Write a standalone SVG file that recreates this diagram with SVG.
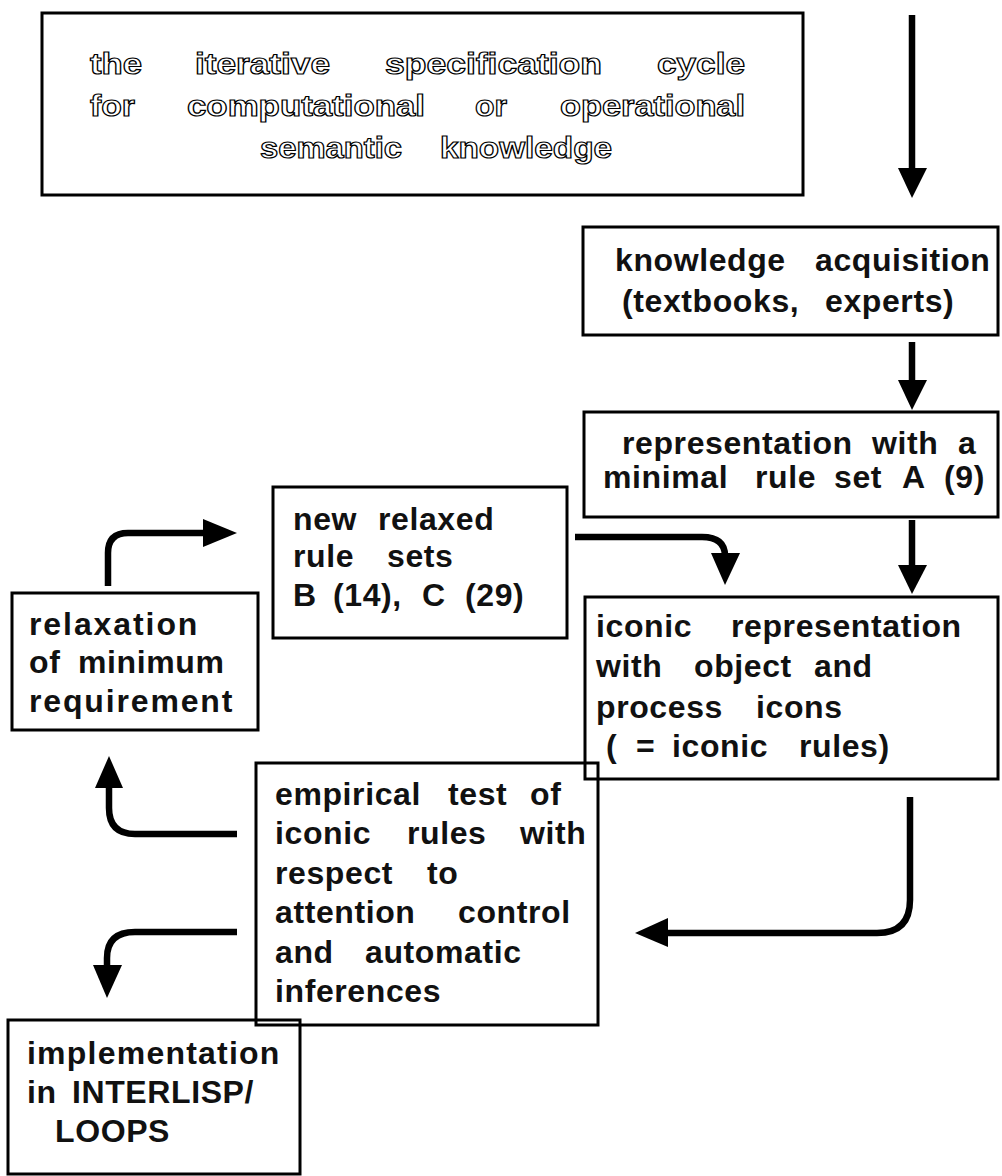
<svg xmlns="http://www.w3.org/2000/svg" width="1002" height="1176" viewBox="0 0 1002 1176">
<style>
.box{fill:none;stroke:#000;stroke-width:3}
.t{font-family:"Liberation Sans",Arial,sans-serif;font-weight:bold;font-size:32px;letter-spacing:0.6px;fill:#111}
.o{font-family:"Liberation Sans",Arial,sans-serif;font-weight:bold;font-size:30px;fill:#fff;stroke:#000;stroke-width:1.2}
.c{fill:none;stroke:#000;stroke-width:6.5}
.h{fill:#000}
</style>
<rect width="1002" height="1176" fill="#fff"/>
<g id="title">
<rect class="box" x="42" y="13" width="761" height="182"/>
<text class="o" x="90" y="74" textLength="52" lengthAdjust="spacingAndGlyphs">the</text>
<text class="o" x="195" y="74" textLength="135" lengthAdjust="spacingAndGlyphs">iterative</text>
<text class="o" x="385" y="74" textLength="217" lengthAdjust="spacingAndGlyphs">specification</text>
<text class="o" x="657" y="74" textLength="88" lengthAdjust="spacingAndGlyphs">cycle</text>
<text class="o" x="90" y="116" textLength="45" lengthAdjust="spacingAndGlyphs">for</text>
<text class="o" x="187" y="116" textLength="238" lengthAdjust="spacingAndGlyphs">computational</text>
<text class="o" x="475" y="116" textLength="32" lengthAdjust="spacingAndGlyphs">or</text>
<text class="o" x="560" y="116" textLength="185" lengthAdjust="spacingAndGlyphs">operational</text>
<text class="o" x="260" y="158" textLength="142" lengthAdjust="spacingAndGlyphs">semantic</text>
<text class="o" x="440" y="158" textLength="172" lengthAdjust="spacingAndGlyphs">knowledge</text>
</g>
<g id="knowledge">
<rect class="box" x="583" y="227" width="415" height="108"/>
<text class="t" y="271"><tspan x="615">knowledge</tspan><tspan x="815">acquisition</tspan></text>
<text class="t" y="312"><tspan x="622">(textbooks,</tspan><tspan x="825">experts)</tspan></text>
</g>
<g id="representation">
<rect class="box" x="584" y="412" width="414" height="105"/>
<text class="t" y="454"><tspan x="622">representation</tspan><tspan x="872">with</tspan><tspan x="958">a</tspan></text>
<text class="t" y="488"><tspan x="603">minimal</tspan><tspan x="755">rule</tspan><tspan x="834">set</tspan><tspan x="902">A</tspan><tspan x="944">(9)</tspan></text>
</g>
<g id="iconic">
<rect class="box" x="585" y="597" width="413" height="182"/>
<text class="t" y="637"><tspan x="596">iconic</tspan><tspan x="731">representation</tspan></text>
<text class="t" y="677"><tspan x="596">with</tspan><tspan x="694">object</tspan><tspan x="814">and</tspan></text>
<text class="t" y="718"><tspan x="596">process</tspan><tspan x="756">icons</tspan></text>
<text class="t" y="757"><tspan x="606">(</tspan><tspan x="636">=</tspan><tspan x="672">iconic</tspan><tspan x="799">rules)</tspan></text>
</g>
<g id="newrules">
<rect class="box" x="273" y="487" width="294" height="151"/>
<text class="t" y="530"><tspan x="293">new</tspan><tspan x="378">relaxed</tspan></text>
<text class="t" y="567"><tspan x="293">rule</tspan><tspan x="387">sets</tspan></text>
<text class="t" y="606"><tspan x="293">B</tspan><tspan x="333">(14),</tspan><tspan x="422">C</tspan><tspan x="465">(29)</tspan></text>
</g>
<g id="relaxation">
<rect class="box" x="12" y="593" width="246" height="137"/>
<text class="t" x="29" y="635" textLength="169" lengthAdjust="spacing">relaxation</text>
<text class="t" y="673"><tspan x="29">of</tspan><tspan x="78">minimum</tspan></text>
<text class="t" x="29" y="712" textLength="204" lengthAdjust="spacing">requirement</text>
</g>
<g id="empirical">
<rect class="box" x="256" y="763" width="342" height="262"/>
<text class="t" y="805"><tspan x="275">empirical</tspan><tspan x="448">test</tspan><tspan x="530">of</tspan></text>
<text class="t" y="844"><tspan x="275">iconic</tspan><tspan x="407">rules</tspan><tspan x="520">with</tspan></text>
<text class="t" y="884"><tspan x="275">respect</tspan><tspan x="427">to</tspan></text>
<text class="t" y="923"><tspan x="275">attention</tspan><tspan x="458">control</tspan></text>
<text class="t" y="963"><tspan x="275">and</tspan><tspan x="365">automatic</tspan></text>
<text class="t" x="275" y="1002">inferences</text>
</g>
<g id="implementation">
<rect class="box" x="8" y="1020" width="292" height="154"/>
<text class="t" x="27" y="1064" textLength="253" lengthAdjust="spacing">implementation</text>
<text class="t" y="1103"><tspan x="27">in</tspan><tspan x="72">INTERLISP/</tspan></text>
<text class="t" x="55" y="1142">LOOPS</text>
</g>
<g id="connectors">
<path class="c" d="M912 15 V172"/>
<polygon class="h" points="898,168 927,168 912,198"/>
<path class="c" d="M912 342 V384"/>
<polygon class="h" points="898,380 927,380 912,410"/>
<path class="c" d="M912 520 V569"/>
<polygon class="h" points="898,565 927,565 912,594"/>
<path class="c" d="M575 537 H702 Q725 537 725 556"/>
<polygon class="h" points="711,553 740,553 725,585"/>
<path class="c" d="M108 586 V553 Q108 533 128 533 H207"/>
<polygon class="h" points="203,519 203,547 237,533"/>
<path class="c" d="M910 797 V900 Q910 933 877 933 H664"/>
<polygon class="h" points="668,918 668,947 635,933"/>
<path class="c" d="M237 834 H135 Q109 834 109 808 V784"/>
<polygon class="h" points="95,788 123,788 109,756"/>
<path class="c" d="M237 932 H135 Q107 932 107 958 V969"/>
<polygon class="h" points="93,965 122,965 107,998"/>
</g>
</svg>
